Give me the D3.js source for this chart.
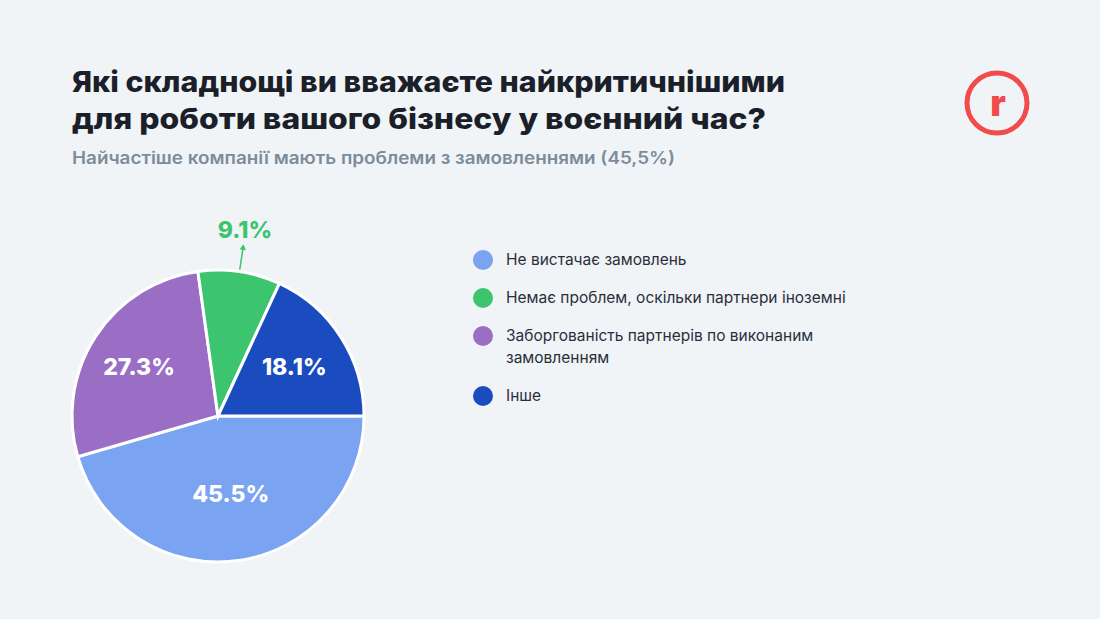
<!DOCTYPE html><html><head><meta charset="utf-8">
<script src="https://cdn.jsdelivr.net/npm/d3@7"></script>
<style>body{margin:0;background:#f1f4f7}svg{display:block}</style></head><body>
<svg id="c" width="1100" height="619"></svg>
<script>
const categories=["Не вистачає замовлень","Немає проблем, оскільки партнери іноземні","Заборгованість партнерів по виконаним замовленням","Інше"];
const values=[45.5,9.1,27.3,18.1];
const labels=["45.5%","9.1%","27.3%","18.1%"];
const colors=["#7aa3f1","#3cc46e","#9a6ec5","#1a4cbf"];
const pieOrder=[0,2,1,3];
const svg=d3.select("#c");
svg.append("rect").attr("width",1100).attr("height",619).attr("fill","#f1f4f7");
const F="Inter, 'Noto Sans', sans-serif";
function title(t,y){svg.append("text").attr("x",72).attr("y",y).attr("font-family",F).attr("font-weight",800).attr("font-size",29).attr("fill","#1b1f2a").attr("textLength",null).text(t);}
svg.append("text").attr("x",72).attr("y",92).attr("font-family",F).attr("font-weight",800).attr("font-size",29).attr("fill","#1b1f2a").attr("textLength",713).attr("lengthAdjust","spacingAndGlyphs").text("Які складнощі ви вважаєте найкритичнішими");
svg.append("text").attr("x",72).attr("y",129).attr("font-family",F).attr("font-weight",800).attr("font-size",29).attr("fill","#1b1f2a").attr("textLength",694).attr("lengthAdjust","spacingAndGlyphs").text("для роботи вашого бізнесу у воєнний час?");
svg.append("text").attr("x",72).attr("y",164).attr("font-family",F).attr("font-weight",600).attr("font-size",17).attr("fill","#7d8c99").attr("textLength",603).attr("lengthAdjust","spacingAndGlyphs").text("Найчастіше компанії мають проблеми з замовленнями (45,5%)");
svg.append("circle").attr("cx",997).attr("cy",103).attr("r",30).attr("fill","none").attr("stroke","#f24b4b").attr("stroke-width",5);
svg.append("text").attr("x",998).attr("y",116).attr("text-anchor","middle").attr("font-family",F).attr("font-weight",900).attr("font-size",36).attr("fill","#f24b4b").text("r");
const cx=218,cy=416,R=146;
const data=pieOrder.map(i=>({i,v:values[i]}));
const pie=d3.pie().value(d=>d.v).sort(null).startAngle(Math.PI/2).endAngle(Math.PI/2+2*Math.PI);
const arcs=pie(data);
const arc=d3.arc().innerRadius(0).outerRadius(R);
const g=svg.append("g").attr("transform",`translate(${cx},${cy})`);
g.selectAll("path").data(arcs).join("path").attr("d",arc).attr("fill",d=>colors[d.data.i]).attr("stroke","#fff").attr("stroke-width",3);
const la=d3.arc().innerRadius(R*0.62).outerRadius(R*0.62);
arcs.forEach(a=>{
 if(a.data.i===1){
  const ang=(a.startAngle+a.endAngle)/2;
  const p1=[Math.sin(ang)*(R+2),-Math.cos(ang)*(R+2)],p2=[Math.sin(ang)*(R+24),-Math.cos(ang)*(R+24)];
  g.append("line").attr("x1",p1[0]).attr("y1",p1[1]).attr("x2",p2[0]).attr("y2",p2[1]).attr("stroke","#3cc46e").attr("stroke-width",1.5);
  g.append("path").attr("d",d3.symbol(d3.symbolTriangle,18)()).attr("transform",`translate(${p2[0]},${p2[1]}) rotate(${ang*180/Math.PI})`).attr("fill","#3cc46e");
  g.append("text").attr("x",p2[0]+2).attr("y",p2[1]-10).attr("text-anchor","middle").attr("font-family",F).attr("font-weight",800).attr("font-size",23).attr("fill","#3cc46e").text(labels[1]);
 } else {
  let [x,y]=la.centroid(a);
  if(a.data.i===0){y=y-12;}
  if(a.data.i===2){x=x-3;}
  g.append("text").attr("x",x).attr("y",y).attr("dy","0.35em").attr("text-anchor","middle").attr("font-family",F).attr("font-weight",800).attr("font-size",23).attr("fill","#fff").text(labels[a.data.i]);
 }
});
const leg=[[0,260,[categories[0]]],[1,298,[categories[1]]],[2,336,["Заборгованість партнерів по виконаним","замовленням"]],[3,396,[categories[3]]]];
leg.forEach(([i,y,lines])=>{
 svg.append("circle").attr("cx",483).attr("cy",y).attr("r",10).attr("fill",colors[i]);
 lines.forEach((t,k)=>svg.append("text").attr("x",506).attr("y",y+5+k*22).attr("font-family",F).attr("font-size",15.5).attr("fill","#2a2f3a").text(t));
});
</script></body></html>
